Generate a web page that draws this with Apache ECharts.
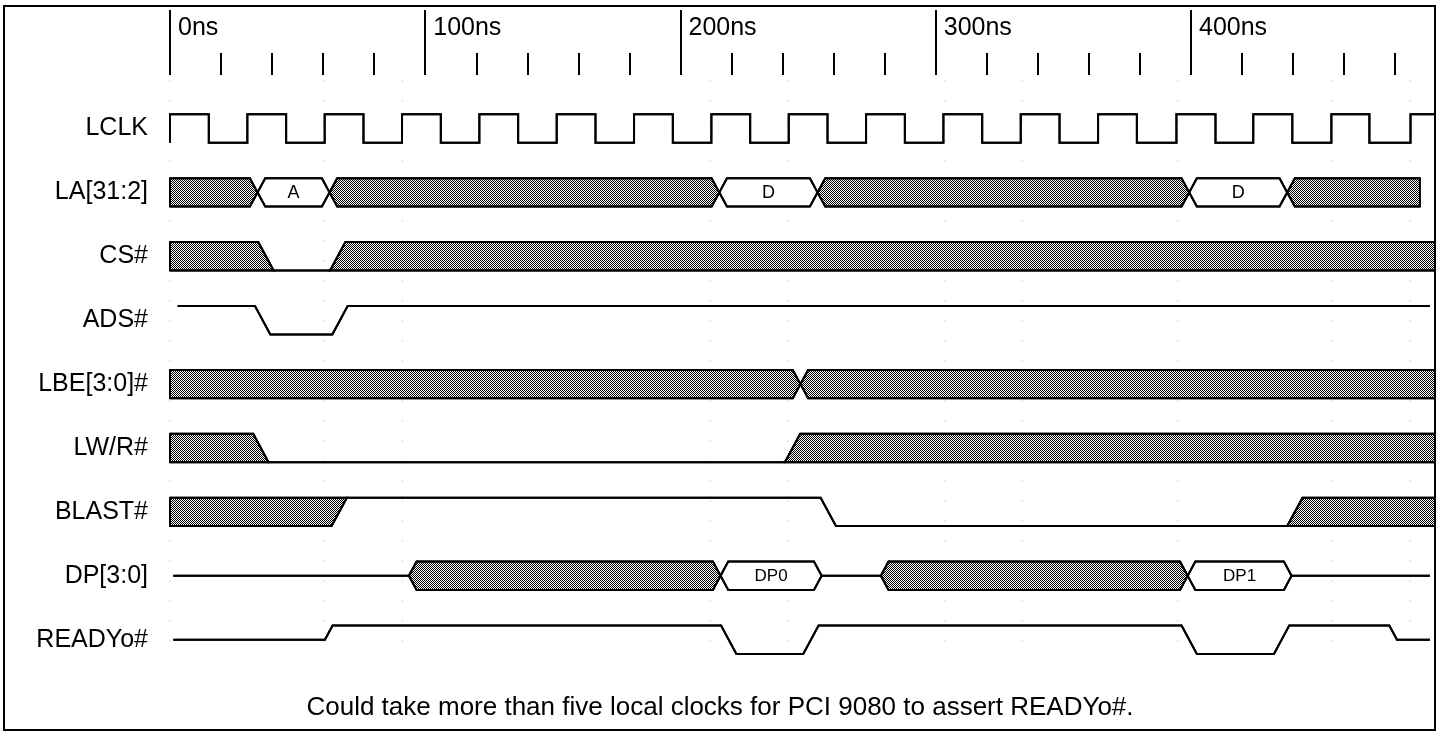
<!DOCTYPE html>
<html><head><meta charset="utf-8">
<script src="https://cdn.jsdelivr.net/npm/echarts@6/dist/echarts.min.js"></script>
<style>html,body{margin:0;padding:0;background:#fff}#c{width:1445px;height:732px}</style>
</head><body><div id="c"></div>
<script>
// ---------- data (times in ns) ----------
const signalNames = ['LCLK','LA[31:2]','CS#','ADS#','LBE[3:0]#','LW/R#','BLAST#','DP[3:0]','READYo#'];
const timeTickValues = [0,100,200,300,400];
const timeTickLabels = ['0ns','100ns','200ns','300ns','400ns'];
const timeMax = 495.6;
// state codes: H high, L low, Z float, X unknown (hatched), V valid (labelled), END
const LCLK = [[0,'L'],[0,'H'],[15.2,'L'],[30.3,'H'],[45.5,'L'],[60.6,'H'],[75.8,'L'],[90.9,'H'],[106.1,'L'],
  [121.2,'H'],[136.4,'L'],[151.5,'H'],[166.7,'L'],[181.8,'H'],[197.0,'L'],[212.1,'H'],[227.3,'L'],[242.4,'H'],
  [257.6,'L'],[272.7,'H'],[287.9,'L'],[303.0,'H'],[318.2,'L'],[333.3,'H'],[348.5,'L'],[363.6,'H'],[378.8,'L'],
  [394.3,'H'],[409.6,'L'],[424.4,'H'],[439.7,'L'],[455.0,'H'],[469.9,'L'],[486.0,'H'],[495.6,'END']];
const LA = [[0,'X'],[31.3,'V','A'],[59.5,'X'],[212.2,'V','D'],[250.7,'X'],[396.3,'V','D'],[434.7,'X'],[489.7,'END']];
const CS = [[0,'X'],[34.6,'L'],[62.7,'X'],[495.6,'END']];
const ADS = [[3.0,'H'],[33.3,'L'],[63.6,'H'],[493.6,'END']];
const LBE = [[0,'X'],[244.0,'X'],[495.6,'END']];
const LWR = [[0,'X'],[32.6,'L'],[240.9,'X'],[495.6,'END']];
const BLAST = [[0,'X'],[63.3,'H'],[254.9,'L'],[437.7,'X'],[495.6,'END']];
const DP = [[1.3,'Z'],[93.6,'X'],[212.7,'V','DP0'],[252.3,'Z'],[278.5,'X'],[395.7,'V','DP1'],[436.4,'Z'],[493.6,'END']];
const READY = [[1.3,'Z'],[60.7,'H'],[215.9,'L'],[248.1,'H'],[396.3,'L'],[432.5,'H'],[477.7,'Z'],[493.6,'END']];
const gridMarkTimes = [0, 60.3, 91.1, 211.6, 242.2, 303.6, 333.8, 394.9, 455.3, 485.9];
const caption = 'Could take more than five local clocks for PCI 9080 to assert READYo#.';

const waves = [LCLK, LA, CS, ADS, LBE, LWR, BLAST, DP, READY];

// ---------- styling constants ----------
const FONT = '"Liberation Sans", Arial, Helvetica, sans-serif';
const EDGE_NS = 6;            // time for a full-swing edge
const SQUARE = {0: true};     // LCLK drawn with vertical edges
const LEVEL = 0.222;          // half swing as fraction of row pitch

// hatch pattern
const pat = document.createElement('canvas');
pat.width = 2; pat.height = 2;
(function(){ const g = pat.getContext('2d'); g.fillStyle = '#fff'; g.fillRect(0,0,2,2);
  g.fillStyle = '#000'; g.fillRect(0,0,1,1); g.fillRect(1,1,1,1); })();
const hatch = { image: pat, repeat: 'repeat' };

// build envelopes from change lists
const LV = {H:[-1,-1], L:[1,1], Z:[0,0], X:[-1,1], V:[-1,1]};
const isBus = s => s === 'X' || s === 'V';
function build(changes, slope) {
  const upper = [], lower = [], segs = [];
  const first = changes[0];
  let cur = {state: first[1], label: first[2], up: [[first[0], LV[first[1]][0]]], lo: [[first[0], LV[first[1]][1]]]};
  upper.push([first[0], LV[first[1]][0]]); lower.push([first[0], LV[first[1]][1]]);
  for (let i = 1; i < changes.length; i++) {
    const [t, s, lab] = changes[i];
    const a = LV[cur.state];
    if (s === 'END') {
      cur.up.push([t, a[0]]); cur.lo.push([t, a[1]]);
      upper.push([t, a[0]]); lower.push([t, a[1]]);
      segs.push(cur); break;
    }
    const b = LV[s];
    const next = {state: s, label: lab, up: [], lo: []};
    if (isBus(cur.state) && isBus(s)) {
      const d = slope, m = t + d / 2;
      upper.push([t, a[0]], [m, 0], [t + d, b[0]]);
      lower.push([t, a[1]], [m, 0], [t + d, b[1]]);
      cur.up.push([t, a[0]], [m, 0]); cur.lo.push([t, a[1]], [m, 0]);
      next.up.push([m, 0], [t + d, b[0]]); next.lo.push([m, 0], [t + d, b[1]]);
    } else {
      const d = slope * Math.max(Math.abs(a[0] - b[0]), Math.abs(a[1] - b[1])) / 2;
      upper.push([t, a[0]], [t + d, b[0]]); lower.push([t, a[1]], [t + d, b[1]]);
      cur.up.push([t, a[0]], [t + d, b[0]]); cur.lo.push([t, a[1]], [t + d, b[1]]);
      next.up.push([t, a[0]], [t + d, b[0]]); next.lo.push([t, a[1]], [t + d, b[1]]);
    }
    segs.push(cur); cur = next;
  }
  return {upper, lower, segs};
}
const shapes = waves.map((w, i) => build(w, SQUARE[i] ? 0 : EDGE_NS));

function renderWave(params, api) {
  const idx = params.dataIndex;
  const sh = shapes[idx];
  const yc = api.coord([0, idx])[1];
  const pitch = api.coord([0, 1])[1] - api.coord([0, 0])[1];
  const amp = Math.abs(pitch) * LEVEL;
  const P = (p) => [api.coord([p[0], idx])[0], yc + p[1] * amp];
  const children = [];
  sh.segs.forEach(seg => {
    if (!isBus(seg.state)) return;
    const pts = seg.up.concat(seg.lo.slice().reverse()).map(P);
    children.push({type: 'polygon', shape: {points: pts},
      style: {fill: seg.state === 'X' ? hatch : '#fff', stroke: '#000', lineWidth: 2, lineJoin: 'miter'}});
    if (seg.label) {
      const x0 = P(seg.up[0])[0], x1 = P(seg.up[seg.up.length - 1])[0];
      children.push({type: 'text', style: {text: seg.label, x: (x0 + x1) / 2, y: yc + 1,
        align: 'center', verticalAlign: 'middle', fill: '#000',
        font: (seg.label.length > 1 ? '17px ' : '18px ') + FONT}});
    }
  });
  children.push({type: 'polyline', shape: {points: sh.upper.map(P)}, style: {stroke: '#000', lineWidth: 2, fill: null, lineJoin: 'miter'}});
  children.push({type: 'polyline', shape: {points: sh.lower.map(P)}, style: {stroke: '#000', lineWidth: 2, fill: null, lineJoin: 'miter'}});
  return {type: 'group', children};
}

function renderMark(params, api) {
  const cs = params.coordSys;
  const x = api.coord([api.value(0), 0])[0];
  return {type: 'line', shape: {x1: x, y1: cs.y - 16, x2: x, y2: cs.y + cs.height - 12},
    style: {stroke: '#aaa', lineWidth: 1, lineDash: [1, 19]}};
}

const chart = echarts.init(document.getElementById('c'), null, {renderer: 'canvas'});
chart.setOption({
  animation: false,
  backgroundColor: '#fff',
  textStyle: {fontFamily: FONT},
  grid: {left: 170, right: 10, top: 96.55, bottom: 60.35, containLabel: false},
  xAxis: {
    type: 'value', position: 'top', offset: 21.55, min: 0, max: timeMax,
    interval: 100,
    axisLine: {show: false},
    axisTick: {show: true, length: 65, lineStyle: {color: '#000', width: 2}, customValues: timeTickValues},
    minorTick: {show: true, splitNumber: 5, length: 22, lineStyle: {color: '#000', width: 2}},
    axisLabel: {customValues: timeTickValues, formatter: (v) => timeTickLabels[timeTickValues.indexOf(v)] || '',
      align: 'left', padding: [0, 0, 0, 8], margin: 34, fontSize: 25, color: '#000', fontFamily: FONT},
    splitLine: {show: false}, minorSplitLine: {show: false}
  },
  yAxis: {
    type: 'category', data: signalNames, inverse: true,
    axisLine: {show: false}, axisTick: {show: false}, splitLine: {show: false},
    axisLabel: {fontSize: 25, color: '#000', margin: 22, fontFamily: FONT, padding: [0, 0, 6, 0]}
  },
  series: [
    {type: 'custom', coordinateSystem: 'cartesian2d', renderItem: renderMark, z: 1, silent: true,
     data: gridMarkTimes.map(t => [t, 0])},
    {type: 'custom', coordinateSystem: 'cartesian2d', renderItem: renderWave, z: 2, silent: true,
     data: signalNames.map((n, i) => [0, i])}
  ],
  graphic: [
    {type: 'rect', shape: {x: 4, y: 6, width: 1431, height: 724}, style: {fill: null, stroke: '#000', lineWidth: 2}, z: 10},
    {type: 'text', x: 720, y: 708, style: {text: caption, font: '26px ' + FONT, fill: '#000', align: 'center', verticalAlign: 'middle'}}
  ]
});
</script></body></html>
